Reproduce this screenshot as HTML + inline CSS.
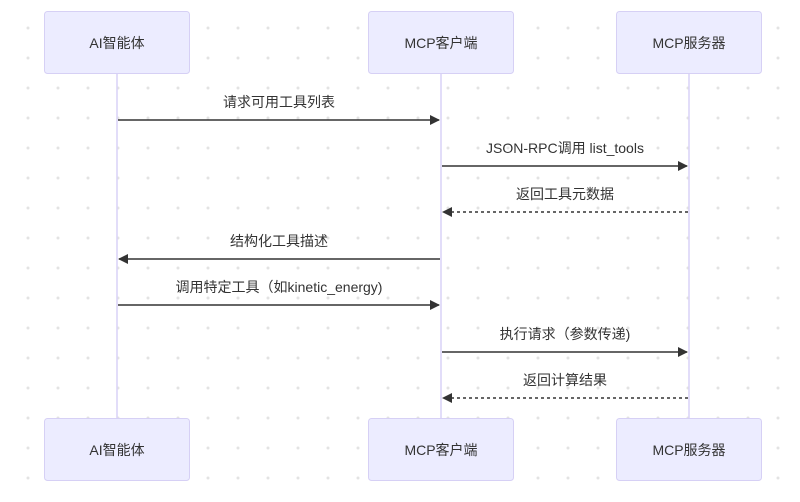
<!DOCTYPE html>
<html><head><meta charset="utf-8"><style>
html,body{margin:0;padding:0;background:#fff}
svg text{font-family:"Liberation Sans","Noto Sans CJK SC",sans-serif;fill:#333}
</style></head><body>
<svg width="800" height="497" viewBox="0 0 800 497" xmlns="http://www.w3.org/2000/svg">
<defs>
<pattern id="dots" x="13" y="13" width="30" height="30" patternUnits="userSpaceOnUse">
<circle cx="15" cy="15" r="1.5" fill="#e3e3e3"/></pattern>
<marker id="ah" markerWidth="10" markerHeight="10" refX="9" refY="5" orient="auto" markerUnits="userSpaceOnUse">
<path d="M0,0 L10,5 L0,10 z" fill="#333"/></marker>
</defs>
<rect width="800" height="497" fill="url(#dots)"/>
<g stroke="#d9d2f7" stroke-width="1.5">
<line x1="117" y1="74" x2="117" y2="418"/>
<line x1="441" y1="74" x2="441" y2="418"/>
<line x1="689" y1="74" x2="689" y2="418"/>
</g>
<g fill="#ECECFF" stroke="#d6d0f5" stroke-width="1">
<rect x="44.5" y="11.5" width="145" height="62" rx="3"/>
<rect x="368.5" y="11.5" width="145" height="62" rx="3"/>
<rect x="616.5" y="11.5" width="145" height="62" rx="3"/>
<rect x="44.5" y="418.5" width="145" height="62" rx="3"/>
<rect x="368.5" y="418.5" width="145" height="62" rx="3"/>
<rect x="616.5" y="418.5" width="145" height="62" rx="3"/>
</g>
<g font-size="14" text-anchor="middle" dominant-baseline="central">
<text x="117" y="43">AI智能体</text>
<text x="441" y="43">MCP客户端</text>
<text x="689" y="43">MCP服务器</text>
<text x="117" y="450">AI智能体</text>
<text x="441" y="450">MCP客户端</text>
<text x="689" y="450">MCP服务器</text>
</g>
<g stroke="#333" stroke-width="1.5" fill="none">
<line x1="118" y1="120" x2="439" y2="120" marker-end="url(#ah)"/>
<line x1="442" y1="166" x2="687" y2="166" marker-end="url(#ah)"/>
<line x1="688" y1="212" x2="443" y2="212" stroke-dasharray="3,3" marker-end="url(#ah)"/>
<line x1="440" y1="259" x2="119" y2="259" marker-end="url(#ah)"/>
<line x1="118" y1="305" x2="439" y2="305" marker-end="url(#ah)"/>
<line x1="442" y1="352" x2="687" y2="352" marker-end="url(#ah)"/>
<line x1="688" y1="398" x2="443" y2="398" stroke-dasharray="3,3" marker-end="url(#ah)"/>
</g>
<g font-size="14" text-anchor="middle">
<text x="279" y="107">请求可用工具列表</text>
<text x="565" y="153">JSON-RPC调用 list_tools</text>
<text x="565" y="199">返回工具元数据</text>
<text x="279" y="246">结构化工具描述</text>
<text x="279" y="292">调用特定工具（如kinetic_energy)</text>
<text x="565" y="339">执行请求（参数传递)</text>
<text x="565" y="385">返回计算结果</text>
</g>
</svg>
</body></html>
